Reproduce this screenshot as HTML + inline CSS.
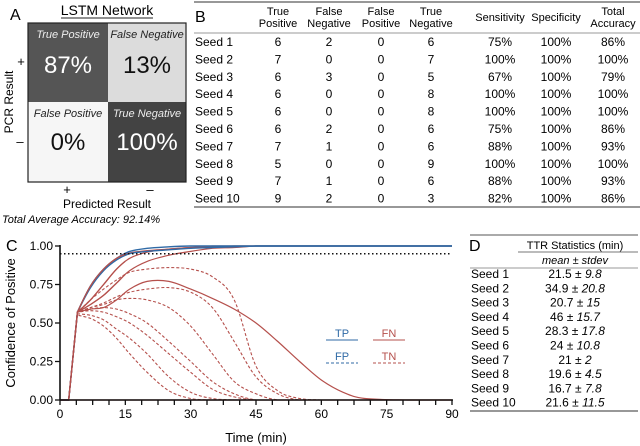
<!DOCTYPE html>
<html><head><meta charset="utf-8"><style>
body{margin:0;background:#fff;}
svg{display:block;font-family:"Liberation Sans",Arial,sans-serif;}
</style></head><body>
<svg id="fig" width="640" height="446" viewBox="0 0 640 446">
<!-- Panel A -->
<g>
<text x="10" y="20" font-size="16">A</text>
<text x="107" y="15" font-size="14" text-anchor="middle">LSTM Network</text>
<line x1="61" y1="18" x2="153" y2="18" stroke="#222" stroke-width="1"/>
<rect x="28" y="23" width="80" height="79" fill="#555"/>
<rect x="108" y="23" width="78" height="79" fill="#dcdcdc"/>
<rect x="28" y="102" width="80" height="80" fill="#f6f6f6"/>
<rect x="108" y="102" width="78" height="80" fill="#434343"/>
<rect x="28" y="23" width="158" height="159" fill="none" stroke="#222" stroke-width="1.2"/>
<text x="68" y="38" font-size="11" font-style="italic" fill="#eee" text-anchor="middle">True Positive</text>
<text x="68" y="73" font-size="24" fill="#fff" text-anchor="middle">87%</text>
<text x="147" y="38" font-size="11" font-style="italic" fill="#222" text-anchor="middle">False Negative</text>
<text x="147" y="73" font-size="24" fill="#111" text-anchor="middle">13%</text>
<text x="68" y="117" font-size="11" font-style="italic" fill="#222" text-anchor="middle">False Positive</text>
<text x="68" y="150" font-size="24" fill="#111" text-anchor="middle">0%</text>
<text x="147" y="117" font-size="11" font-style="italic" fill="#eee" text-anchor="middle">True Negative</text>
<text x="147" y="150" font-size="24" fill="#fff" text-anchor="middle">100%</text>
<text x="21" y="66" font-size="13" text-anchor="middle">+</text>
<text x="20" y="146" font-size="13" text-anchor="middle">–</text>
<text transform="translate(13,102) rotate(-90)" font-size="12" text-anchor="middle">PCR Result</text>
<text x="67" y="194" font-size="13" text-anchor="middle">+</text>
<text x="150" y="194" font-size="13" text-anchor="middle">–</text>
<text x="107" y="208" font-size="12" text-anchor="middle">Predicted Result</text>
<text x="2" y="223" font-size="11" font-style="italic">Total Average Accuracy: 92.14%</text>
</g>
<!-- Panel B -->
<g id="tableB">
<text x="195" y="22" font-size="16">B</text>
<line x1="194" y1="2" x2="640" y2="2" stroke="#777" stroke-width="1.5"/>
<line x1="194" y1="33" x2="640" y2="33" stroke="#999" stroke-width="1"/>
<line x1="194" y1="207" x2="640" y2="207" stroke="#777" stroke-width="1.5"/>
</g>
<!-- Panel D -->
<g id="tableD">
<text x="469" y="251" font-size="16">D</text>
<line x1="470" y1="235" x2="638" y2="235" stroke="#777" stroke-width="1.2"/>
<text x="575" y="249" font-size="11" text-anchor="middle">TTR Statistics (min)</text>
<line x1="518" y1="252" x2="638" y2="252" stroke="#777" stroke-width="1"/>
<text x="575" y="264" font-size="11" font-style="italic" text-anchor="middle">mean ± stdev</text>
<line x1="470" y1="268" x2="638" y2="268" stroke="#999" stroke-width="1"/>
<line x1="470" y1="411" x2="638" y2="411" stroke="#777" stroke-width="1.5"/>
</g>
<!-- Panel C -->
<g id="chart">
<text x="6" y="251" font-size="16">C</text>
<text transform="translate(15,323) rotate(-90)" font-size="13" text-anchor="middle">Confidence of Positive</text>
<text x="256" y="442" font-size="13" text-anchor="middle">Time (min)</text>
</g>
</svg>
<script>
const NS='http://www.w3.org/2000/svg';
function mk(tag,attrs,parent,txt){const e=document.createElementNS(NS,tag);for(const k in attrs)e.setAttribute(k,attrs[k]);if(txt!==undefined)e.textContent=txt;parent.appendChild(e);return e;}

// ---- Table B data ----
const seedNames=['Seed 1','Seed 2','Seed 3','Seed 4','Seed 5','Seed 6','Seed 7','Seed 8','Seed 9','Seed 10'];
const tpCounts=[6,7,6,6,6,6,7,5,7,9];
const fnCounts=[2,0,3,0,0,2,1,0,1,2];
const fpCounts=[0,0,0,0,0,0,0,0,0,0];
const tnCounts=[6,7,5,8,8,6,6,9,6,3];
const sensitivity=['75%','100%','67%','100%','100%','75%','88%','100%','88%','82%'];
const specificity=['100%','100%','100%','100%','100%','100%','100%','100%','100%','100%'];
const totalAcc=['86%','100%','79%','100%','100%','86%','93%','100%','93%','86%'];
const headers=[['True','Positive'],['False','Negative'],['False','Positive'],['True','Negative'],['','Sensitivity'],['','Specificity'],['Total','Accuracy']];
const colX=[278,329,381,431,500,556,613];
const tB=document.getElementById('tableB');
headers.forEach((h,i)=>{
  const y2=h[0]?27:21;
  if(h[0]){const t=mk('text',{x:colX[i],y:15,'font-size':11,'text-anchor':'middle'},tB,h[0]);}
  const t=mk('text',{x:colX[i],y:y2,'font-size':11,'text-anchor':'middle'},tB,h[1]);
  
  
});
seedNames.forEach((s,r)=>{
  const y=46+r*17.4;
  const g=mk('g',{},tB);
  
  
  mk('text',{x:195,y:y,'font-size':12},g,s);
  const vals=[tpCounts[r],fnCounts[r],fpCounts[r],tnCounts[r],sensitivity[r],specificity[r],totalAcc[r]];
  vals.forEach((v,i)=>mk('text',{x:colX[i],y:y,'font-size':12,'text-anchor':'middle'},g,v));
});

// ---- Table D data ----
const ttrMean=['21.5','34.9','20.7','46','28.3','24','21','19.6','16.7','21.6'];
const ttrStd=['9.8','20.8','15','15.7','17.8','10.8','2','4.5','7.8','11.5'];
const tD=document.getElementById('tableD');
seedNames.forEach((s,r)=>{
  const y=278+r*14.3;
  const g=mk('g',{},tD);
  
  
  mk('text',{x:471,y:y,'font-size':12},g,s);
  const t=mk('text',{x:575,y:y,'font-size':12,'text-anchor':'middle'},g);
  mk('tspan',{},t,ttrMean[r]+' ± ');
  mk('tspan',{'font-style':'italic'},t,ttrStd[r]);
});

// ---- Chart C data ----
const times=[0,2,4,7,10,13,16,20,25,30,35,40,45,50,55,60,65,70,80,90];
const tpSeries=[
 [0,0,0.57,0.74,0.85,0.92,0.965,0.985,0.995,1,1,1,1,1,1,1,1,1,1,1],
 [0,0,0.57,0.73,0.84,0.91,0.95,0.965,0.975,0.985,0.99,0.995,1,1,1,1,1,1,1,1]
];
const fnSeries=[
 [0,0,0.57,0.74,0.85,0.92,0.955,0.97,0.98,0.99,0.995,1,1,1,1,1,1,1,1,1],
 [0,0,0.57,0.65,0.75,0.85,0.92,0.96,0.98,0.99,1,1,1,1,1,1,1,1,1,1],
 [0,0,0.57,0.62,0.68,0.76,0.84,0.9,0.94,0.965,0.985,0.99,1,1,1,1,1,1,1,1],
 [0,0,0.57,0.59,0.6,0.65,0.72,0.77,0.77,0.72,0.66,0.59,0.5,0.38,0.25,0.13,0.05,0.01,0,0],
 [0,0,0,0,0,0,0,0,0,0,0,0,0,0,0,0,0,0,0,0]
];
const tnSeries=[
 [0,0,0.57,0.65,0.72,0.78,0.83,0.85,0.86,0.85,0.8,0.65,0.22,0.06,0.01,0,0,0,0,0],
 [0,0,0.57,0.6,0.63,0.67,0.7,0.72,0.73,0.7,0.6,0.38,0.15,0.04,0,0,0,0,0,0],
 [0,0,0.57,0.6,0.62,0.65,0.66,0.65,0.6,0.48,0.3,0.12,0.04,0,0,0,0,0,0,0],
 [0,0,0.57,0.59,0.6,0.59,0.56,0.5,0.38,0.25,0.12,0.04,0,0,0,0,0,0,0,0],
 [0,0,0.57,0.58,0.57,0.54,0.5,0.42,0.3,0.18,0.07,0.02,0,0,0,0,0,0,0,0],
 [0,0,0.56,0.55,0.52,0.46,0.4,0.3,0.15,0.05,0.01,0,0,0,0,0,0,0,0,0],
 [0,0,0.55,0.53,0.48,0.4,0.3,0.18,0.06,0.01,0,0,0,0,0,0,0,0,0,0]
];
const xTickLabels=[0,15,30,45,60,75,90];
const yTickLabels=[0,0.25,0.5,0.75,1];
const threshold=0.95;

const X0=60,X1=452,Y0=400,Y1=246;
const xs=t=>X0+(t/90)*(X1-X0);
const ys=v=>Y0-v*(Y0-Y1);
const C=document.getElementById('chart');

function pathD(vals){
  const p=times.map((t,i)=>[xs(t),ys(vals[i])]);
  let d='M'+p[0][0].toFixed(1)+','+p[0][1].toFixed(1);
  for(let i=0;i<p.length-1;i++){
    const p0=p[Math.max(0,i-1)],p1=p[i],p2=p[i+1],p3=p[Math.min(p.length-1,i+2)];
    let c1=[p1[0]+(p2[0]-p0[0])/6,p1[1]+(p2[1]-p0[1])/6];
    let c2=[p2[0]-(p3[0]-p1[0])/6,p2[1]-(p3[1]-p1[1])/6];
    if(i<=2){c1=[p1[0],p1[1]];}
    if(i<=1){c2=[p2[0],p2[1]];}
    c1[1]=Math.min(Math.max(c1[1],Y1),Y0);c2[1]=Math.min(Math.max(c2[1],Y1),Y0);
    d+=' C'+c1[0].toFixed(1)+','+c1[1].toFixed(1)+' '+c2[0].toFixed(1)+','+c2[1].toFixed(1)+' '+p2[0].toFixed(1)+','+p2[1].toFixed(1);
  }
  return d;
}
const red='#b5504c',blue='#2f6aa6';
tnSeries.forEach((s,i)=>{
  const e=mk('path',{d:pathD(s),fill:'none',stroke:red,'stroke-width':1.1,'stroke-dasharray':'3,2'},C);
  
  
});
fnSeries.forEach((s,i)=>{
  const e=mk('path',{d:pathD(s),fill:'none',stroke:red,'stroke-width':1.2},C);
  
  
});
tpSeries.forEach((s,i)=>{
  const e=mk('path',{d:pathD(s),fill:'none',stroke:blue,'stroke-width':1.4},C);
  
  
});
const defs=mk('defs',{},C);
const cp=mk('clipPath',{id:'earlyClip'},defs);
mk('rect',{x:X0,y:Y1-5,width:xs(15)-X0,height:Y0-Y1+10},cp);
fnSeries.slice(0,3).forEach((s,i)=>{
  const e=mk('path',{d:pathD(s),fill:'none',stroke:red,'stroke-width':1.3,'clip-path':'url(#earlyClip)'},C);
  
  
});

const th=mk('line',{x1:xs(0),x2:xs(90),y1:ys(threshold),y2:ys(threshold),stroke:'#111','stroke-width':1.5,'stroke-dasharray':'1.5,2.5'},C);



const xa=mk('line',{x1:X0,x2:X1+1,y1:Y0,y2:Y0,stroke:'#111','stroke-width':1.6},C);


const ya=mk('line',{x1:X0,x2:X0,y1:Y1-1,y2:Y0,stroke:'#111','stroke-width':1.6},C);


for(let t=0;t<=90.01;t+=3.75){mk('line',{x1:xs(t),x2:xs(t),y1:Y0,y2:Y0+5,stroke:'#111','stroke-width':1.3},C);}
xTickLabels.forEach(t=>{
  const e=mk('text',{x:xs(t),y:Y0+18,'font-size':12,'text-anchor':'middle'},C,t);
  
  
});
yTickLabels.forEach(v=>{
  mk('line',{x1:X0-5,x2:X0,y1:ys(v),y2:ys(v),stroke:'#111','stroke-width':1.3},C);
  const e=mk('text',{x:X0-7,y:ys(v)+4,'font-size':12,'text-anchor':'end'},C,v.toFixed(2));
  
  
});
const lg=mk('g',{},C);


[['TP',326,340,blue,false],['FN',373,340,red,false],['FP',326,363,blue,true],['TN',373,363,red,true]].forEach(a=>{
  const g=mk('g',{},lg);
  
  
  mk('text',{x:a[1]+16,y:a[2]-3,'font-size':11,fill:a[3],'text-anchor':'middle'},g,a[0]);
  const l=mk('line',{x1:a[1],x2:a[1]+32,y1:a[2],y2:a[2],stroke:a[3],'stroke-width':1.1},g);
  if(a[4])l.setAttribute('stroke-dasharray','3,2');
});
</script>
</body></html>
